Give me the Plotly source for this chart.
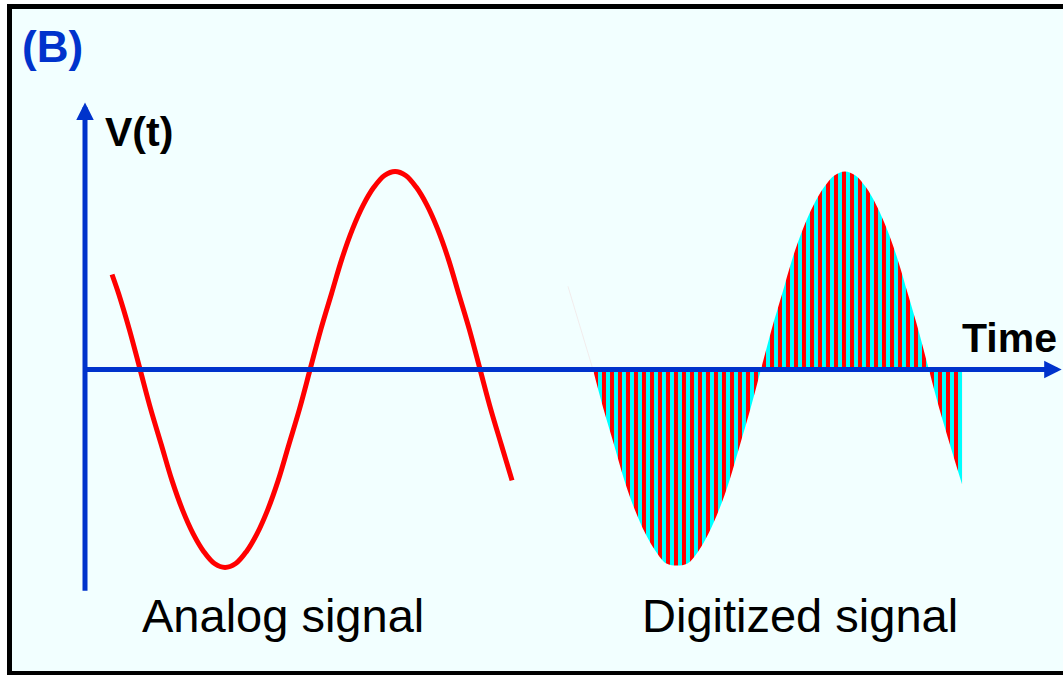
import plotly.graph_objects as go

# ---- data (time in arbitrary units, voltage normalised) ----
analog_t = [1.59, 1.99, 2.615, 3.24, 3.865, 4.49, 5.115, 5.74, 6.365, 6.99, 7.615, 8.24,
            8.865, 9.49, 10.115, 10.74, 11.365, 11.99, 12.615, 13.24, 13.865, 14.49,
            15.115, 15.74, 16.365, 16.99, 17.615, 18.24, 18.865, 19.49, 20.115, 20.74,
            21.365, 21.99, 22.615, 23.24, 23.865, 24.49, 25.12]
analog_v = [0.48, 0.38, 0.2, 0.0, -0.2, -0.38, -0.56, -0.71, -0.83, -0.92, -0.98, -1.0,
            -0.98, -0.92, -0.83, -0.71, -0.56, -0.38, -0.2, 0.0, 0.2, 0.38,
            0.56, 0.71, 0.83, 0.92, 0.98, 1.0, 0.98, 0.92, 0.83, 0.71,
            0.56, 0.38, 0.2, 0.0, -0.2, -0.38, -0.56]

digital_t = [29.88, 30.50, 31.12, 31.73, 32.35, 32.97, 33.59, 34.20, 34.82, 35.44, 36.06,
             36.67, 37.29, 37.91, 38.53, 39.14, 39.76, 40.38, 41.0, 41.61, 42.23, 42.85,
             43.47, 44.08, 44.70, 45.32, 45.94, 46.55, 47.17, 47.79, 48.41, 49.02, 49.64,
             50.26, 50.88, 51.59]
digital_v = [0.0, -0.2, -0.38, -0.56, -0.71, -0.83, -0.92, -0.98, -0.99, -0.98, -0.92,
             -0.83, -0.71, -0.56, -0.38, -0.2, 0.0, 0.2, 0.38, 0.56, 0.71, 0.83,
             0.92, 0.98, 1.0, 0.98, 0.92, 0.83, 0.71, 0.56, 0.38, 0.2, 0.0,
             -0.2, -0.38, -0.58]

# faint leading edge of the digitized signal (almost invisible in the original)
lead_t = [28.41, 29.15, 29.88]
lead_v = [0.42, 0.21, 0.0]

label_panel = "(B)"
label_y = "V(t)"
label_x = "Time"
label_analog = "Analog signal"
label_digital = "Digitized signal"

W, H = 1063, 675
X_RANGE = [-5.0, 57.529]
Y_RANGE = [-1.5429, 1.8662]

BLUE = "#0033CC"
RED = "#FF0000"
CYAN = "#00FFFF"
BG = "#F2FFFF"
FONT = "Liberation Sans, Arial, sans-serif"

fig = go.Figure()

fig.add_trace(go.Scatter(
    x=lead_t, y=lead_v, mode="lines",
    line=dict(width=1, color="rgba(240,200,200,0.35)"),
    hoverinfo="skip", showlegend=False))

# digitized signal: striped fill
fig.add_trace(go.Scatter(
    x=digital_t, y=digital_v, mode="lines",
    line=dict(width=0, shape="spline", smoothing=1.0, color=CYAN),
    fill="tozeroy", fillcolor=CYAN,
    fillpattern=dict(shape="|", bgcolor=CYAN, fgcolor=RED, fgopacity=1,
                     size=8, solidity=0.5),
    hoverinfo="skip", showlegend=False))

# analog signal
fig.add_trace(go.Scatter(
    x=analog_t, y=analog_v, mode="lines",
    line=dict(width=5, shape="spline", smoothing=1.0, color=RED),
    hoverinfo="skip", showlegend=False))

def px(x):
    return x / W

def py(y):
    return 1 - y / H

annotations = [
    # axes arrows
    dict(x=0, y=1.348, ax=0, ay=-1.125, xref="x", yref="y", axref="x", ayref="y",
         showarrow=True, arrowhead=2, arrowwidth=5, arrowsize=0.7, arrowcolor=BLUE, text=""),
    dict(x=57.45, y=0, ax=0, ay=0, xref="x", yref="y", axref="x", ayref="y",
         showarrow=True, arrowhead=2, arrowwidth=5, arrowsize=0.7, arrowcolor=BLUE, text=""),
    # labels
    dict(x=px(20), y=py(47), xref="paper", yref="paper", text=f"<b>{label_panel}</b>",
         showarrow=False, xanchor="left", yanchor="middle",
         font=dict(family=FONT, size=44, color=BLUE)),
    dict(x=px(103), y=py(132), xref="paper", yref="paper", text=f"<b>{label_y}</b>",
         showarrow=False, xanchor="left", yanchor="middle",
         font=dict(family=FONT, size=41, color="black")),
    dict(x=px(960), y=py(338), xref="paper", yref="paper", text=f"<b>{label_x}</b>",
         showarrow=False, xanchor="left", yanchor="middle",
         font=dict(family=FONT, size=41, color="black")),
    dict(x=px(140), y=py(615), xref="paper", yref="paper", text=label_analog,
         showarrow=False, xanchor="left", yanchor="middle",
         font=dict(family=FONT, size=47, color="black")),
    dict(x=px(640), y=py(615), xref="paper", yref="paper", text=label_digital,
         showarrow=False, xanchor="left", yanchor="middle",
         font=dict(family=FONT, size=47, color="black")),
]

shapes = [
    dict(type="rect", xref="paper", yref="paper",
         x0=px(9.5), x1=1.02, y0=py(673.5), y1=py(6.5),
         line=dict(color="black", width=5), fillcolor=BG, layer="below"),
]

fig.update_layout(
    width=W, height=H,
    margin=dict(l=0, r=0, t=0, b=0),
    paper_bgcolor="white", plot_bgcolor="rgba(0,0,0,0)",
    xaxis=dict(range=X_RANGE, visible=False, fixedrange=True),
    yaxis=dict(range=Y_RANGE, visible=False, fixedrange=True),
    annotations=annotations, shapes=shapes, showlegend=False,
)

fig.write_html(
    "out.html",
    config={"displayModeBar": False},
    post_script="document.body.style.margin='0';document.body.style.overflow='hidden';",
)
